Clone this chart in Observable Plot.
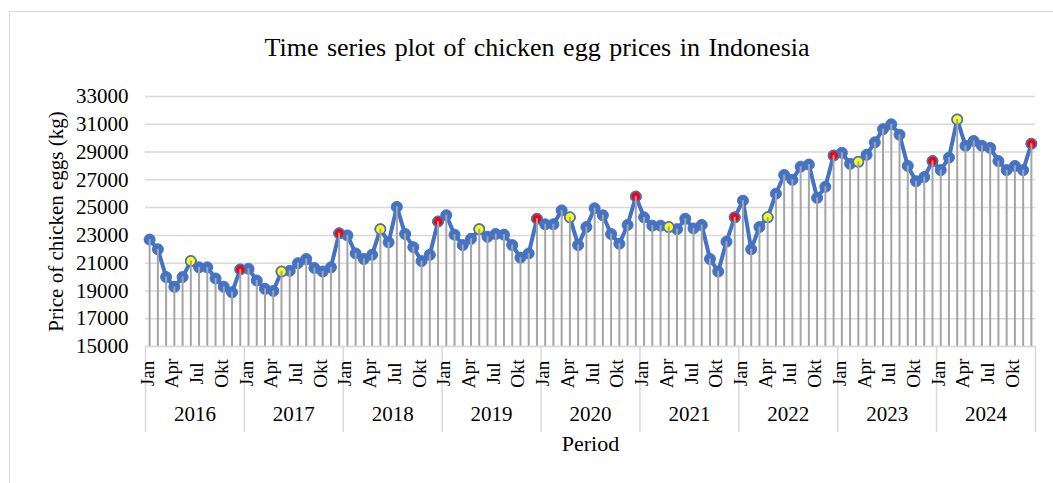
<!DOCTYPE html>
<html>
<head>
<meta charset="utf-8">
<script src="https://cdn.jsdelivr.net/npm/d3@7"></script>
<script src="https://cdn.jsdelivr.net/npm/@observablehq/plot@0.6"></script>
<style>
  html, body { margin: 0; padding: 0; background: #fff; overflow: hidden; }
  #wrap { position: relative; width: 1053px; height: 483px; }
  #frame { position: absolute; left: 9px; top: 11px; width: 1100px; height: 600px; border: 1.5px solid #d9d9d9; box-sizing: border-box; }
  #title { position: absolute; left: 0; top: 35px; width: 1074px; text-align: center; font-family: "Liberation Serif", "Times New Roman", serif; font-size: 26px; line-height: 26px; color: #000; word-spacing: 2px; }
  #chart { position: absolute; left: 0; top: 0; }
</style>
</head>
<body>
<div id="wrap">
  <div id="frame"></div>
  <div id="chart"></div>
  <div id="title">Time series plot of chicken egg prices in Indonesia</div>
</div>
<script>
const years = [2016, 2017, 2018, 2019, 2020, 2021, 2022, 2023, 2024];
const monthNames = ["Jan","Feb","Mar","Apr","Mei","Jun","Jul","Agu","Sep","Okt","Nov","Des"];
const labeledMonths = ["Jan", "Apr", "Jul", "Okt"];

const p2016 = [22700, 22000, 20000, 19300, 20000, 21150, 20700, 20700, 19900, 19300, 18900, 20550];
const p2017 = [20600, 19750, 19150, 19000, 20400, 20450, 21000, 21300, 20650, 20400, 20700, 23150];
const p2018 = [23000, 21700, 21300, 21600, 23450, 22500, 25050, 23100, 22150, 21150, 21600, 24000];
const p2019 = [24450, 23050, 22300, 22750, 23450, 22900, 23100, 23050, 22300, 21400, 21700, 24200];
const p2020 = [23800, 23800, 24800, 24300, 22300, 23600, 24950, 24450, 23100, 22400, 23750, 25800];
const p2021 = [24300, 23700, 23700, 23600, 23450, 24200, 23500, 23750, 21300, 20400, 22550, 24300];
const p2022 = [25500, 22000, 23600, 24300, 26000, 27350, 27000, 27950, 28100, 25700, 26500, 28750];
const p2023 = [28950, 28150, 28300, 28800, 29700, 30650, 31000, 30250, 28000, 26900, 27200, 28350];
const p2024 = [27700, 28600, 31350, 29450, 29800, 29450, 29300, 28350, 27700, 28000, 27700, 29600];
const pricesByYear = [p2016, p2017, p2018, p2019, p2020, p2021, p2022, p2023, p2024];

// highlighted months (red: December; yellow: Eid month)
const redMonths    = ["Des", "Des", "Des", "Des", "Des", "Des", "Des", "Des", "Des"];
const yellowMonths = ["Jun", "Mei", "Mei", "Mei", "Apr", "Apr", "Apr", "Mar", "Mar"];

const yTicks = [15000, 17000, 19000, 21000, 23000, 25000, 27000, 29000, 31000, 33000];

const data = [];
years.forEach((yr, yi) => {
  pricesByYear[yi].forEach((v, mi) => {
    data.push({
      i: yi * 12 + mi, year: yr, month: monthNames[mi], price: v,
      red: redMonths[yi] === monthNames[mi],
      yellow: yellowMonths[yi] === monthNames[mi]
    });
  });
});
const n = data.length;
const monthLabels = data.filter(d => labeledMonths.includes(d.month));
const yearLabels = years.map((yr, yi) => ({year: yr, c: yi * 12 + 5.5}));
const yearBounds = d3.range(0, years.length + 1).map(k => k * 12 - 0.5);

const serif = "'Liberation Serif', 'Times New Roman', serif";
const blue = "#4472C4";

const chart = Plot.plot({
  width: 1053,
  height: 483,
  marginLeft: 145,
  marginRight: 18,
  marginTop: 96,
  marginBottom: 137,
  style: {fontFamily: serif, fontSize: "21px", color: "#000", background: "transparent", overflow: "visible"},
  x: {domain: [-0.5, n - 0.5], axis: null},
  y: {domain: [15000, 33000], axis: null},
  marks: [
    Plot.gridY(yTicks, {stroke: "#d9d9d9", strokeOpacity: 1, strokeWidth: 1.5}),
    Plot.axisY(yTicks, {tickSize: 0, tickPadding: 17, fontSize: 21, label: null, tickFormat: d => String(d), fill: "#000"}),
    Plot.line(data, {x: "i", y: "price", stroke: blue, strokeWidth: 4, strokeLinejoin: "round"}),
    Plot.dot(data, {x: "i", y: "price", r: 5.5, fill: blue, stroke: blue, strokeWidth: 1}),
    Plot.dot(data.filter(d => d.red), {x: "i", y: "price", r: 5, fill: "#ff0000", stroke: blue, strokeWidth: 1.5}),
    Plot.dot(data.filter(d => d.yellow), {x: "i", y: "price", r: 5, fill: "#ffff00", stroke: blue, strokeWidth: 1.5}),
    Plot.ruleX(data, {x: "i", y1: 15000, y2: "price", stroke: "#a5a5a5", strokeWidth: 2}),
    // category axis: year separators
    Plot.ruleX(yearBounds, {x: d => d, y1: 15000, y2: 15000, insetBottom: -86, stroke: "#d9d9d9", strokeWidth: 1.5}),
    Plot.ruleY([15000], {stroke: "#d9d9d9", strokeWidth: 1.5}),
    // month labels
    Plot.text(monthLabels, {x: "i", frameAnchor: "bottom", text: "month", rotate: -90, dy: 27, dx: 4, fontSize: 19, textAnchor: "middle", fill: "#000"}),
    // year labels
    Plot.text(yearLabels, {x: "c", frameAnchor: "bottom", text: d => String(d.year), dy: 74, fontSize: 21, fill: "#000"}),
    // axis titles
    Plot.text(["Period"], {frameAnchor: "bottom", text: d => d, dy: 104, fontSize: 22, fill: "#000"}),
    Plot.text(["Price of chicken eggs (kg)"], {frameAnchor: "left", text: d => d, rotate: -90, dx: -89, textAnchor: "middle", fontSize: 21, fill: "#000"})
  ]
});
document.getElementById("chart").appendChild(chart);
</script>
</body>
</html>
